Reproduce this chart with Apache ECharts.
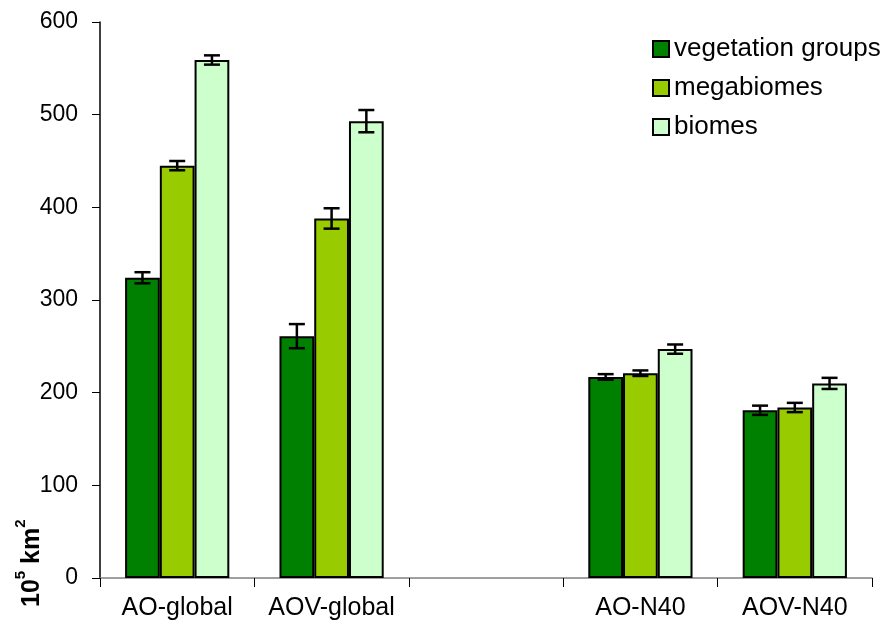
<!DOCTYPE html>
<html>
<head>
<meta charset="utf-8">
<script src="https://cdn.jsdelivr.net/npm/echarts@6/dist/echarts.min.js"></script>
<style>
  html, body { margin: 0; padding: 0; background: #fff; }
  #chart { width: 887px; height: 628px; }
</style>
</head>
<body>
<div id="chart"></div>
<script>
// Categories (the empty slot leaves a gap between the global and N40 groups)
const categories = ['AO-global', 'AOV-global', '', 'AO-N40', 'AOV-N40'];
const seriesNames = ['vegetation groups', 'megabiomes', 'biomes'];

// Area values, 10^5 km^2
const vegetationGroups = [324, 261, null, 217, 181];
const megabiomes       = [445, 388, null, 221, 184];
const biomes           = [559, 493, null, 247, 210];

// Error half-widths
const vegetationErr = [6, 13, null, 3, 5];
const megabiomeErr  = [5, 11, null, 3, 5];
const biomeErr      = [5, 12, null, 5, 6];

const yTicks = { min: 0, max: 600, interval: 100 };

const colors = ['#008000', '#99CC00', '#CCFFCC'];
const values = [vegetationGroups, megabiomes, biomes];
const errors = [vegetationErr, megabiomeErr, biomeErr];
const BAR_FRACTION = 0.225;
const FONT = '"Liberation Sans", Arial, sans-serif';

const chart = echarts.init(document.getElementById('chart'), null, { renderer: 'canvas' });

const barSeries = seriesNames.map((name, i) => ({
  name,
  type: 'bar',
  data: values[i],
  barWidth: (BAR_FRACTION * 100) + '%',
  barGap: '0%',
  itemStyle: { color: colors[i], borderColor: '#000', borderWidth: 2 },
  emphasis: { disabled: true },
  z: 2
}));

// Error bars drawn on top of each bar, shifted to that bar's slot in the group
const errorSeries = seriesNames.map((name, i) => ({
  type: 'custom',
  name: name + ' err',
  data: values[i].map((v, k) => v == null ? [k, null, null] : [k, v - errors[i][k], v + errors[i][k]]),
  encode: { x: 0, y: [1, 2] },
  z: 5,
  silent: true,
  renderItem(params, api) {
    if (api.value(1) == null || isNaN(api.value(1))) return;
    const band = api.size([1, 0])[0];
    const shift = (i - 1) * band * BAR_FRACTION;
    const lo = api.coord([api.value(0), api.value(1)]);
    const hi = api.coord([api.value(0), api.value(2)]);
    const x = lo[0] + shift;
    const cap = 8;
    const style = { stroke: '#000', lineWidth: 2.5 };
    return {
      type: 'group',
      children: [
        { type: 'line', shape: { x1: x, y1: lo[1], x2: x, y2: hi[1] }, style },
        { type: 'line', shape: { x1: x - cap, y1: lo[1], x2: x + cap, y2: lo[1] }, style },
        { type: 'line', shape: { x1: x - cap, y1: hi[1], x2: x + cap, y2: hi[1] }, style }
      ]
    };
  }
}));

chart.setOption({
  animation: false,
  backgroundColor: '#fff',
  textStyle: { fontFamily: FONT },
  grid: { left: 100, right: 15, top: 22, bottom: 50, containLabel: false },
  legend: {
    data: seriesNames,
    orient: 'vertical',
    left: 647,
    top: 31,
    itemWidth: 16,
    itemHeight: 16,
    itemGap: 13,
    icon: 'rect',
    textStyle: { fontSize: 26, color: '#000', fontFamily: FONT },
    selectedMode: false
  },
  xAxis: {
    type: 'category',
    data: categories,
    axisLine: { lineStyle: { color: '#808080', width: 1.5 } },
    axisTick: { show: true, interval: 0, length: 9, lineStyle: { color: '#000' } },
    axisLabel: { interval: 0, fontSize: 25, color: '#000', margin: 18, fontFamily: FONT },
    splitLine: { show: false }
  },
  yAxis: {
    type: 'value',
    min: yTicks.min,
    max: yTicks.max,
    interval: yTicks.interval,
    axisLine: { show: true, lineStyle: { color: '#000', width: 1.5 } },
    axisTick: { show: true, length: 8, lineStyle: { color: '#000' } },
    axisLabel: { fontSize: 23, color: '#000', margin: 22, fontFamily: FONT },
    splitLine: { show: false }
  },
  graphic: [{
    type: 'text',
    x: 13,
    y: 607,
    rotation: Math.PI / 2,
    style: {
      text: '{b|10}{s|5}{b| km}{s|2}',
      fill: '#000',
      textVerticalAlign: 'top',
      rich: {
        b: { fontSize: 25, fontWeight: 'bold', fontFamily: FONT, verticalAlign: 'bottom', lineHeight: 32 },
        s: { fontSize: 15, fontWeight: 'bold', fontFamily: FONT, verticalAlign: 'top', lineHeight: 32 }
      }
    }
  }],
  series: [...barSeries, ...errorSeries]
});
</script>
</body>
</html>
